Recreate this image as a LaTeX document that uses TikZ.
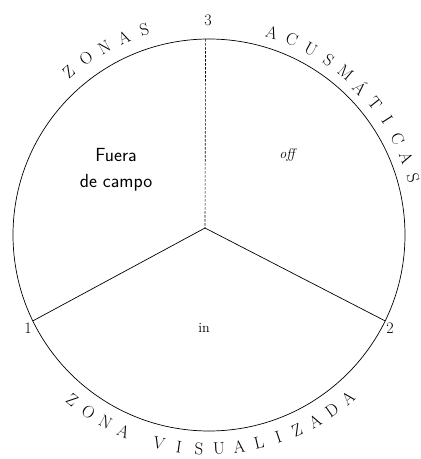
\documentclass[tikz,border=0pt]{standalone}
\usepackage{tikz}
\usetikzlibrary{positioning}
\tikzstyle{rim} = [line width=0.7pt]
\tikzstyle{spoke} = [line width=0.7pt]
\tikzstyle{hidden} = [line width=0.6pt, dash pattern=on 2.5pt off 1.5pt]
\tikzstyle{arcletter} = [inner sep=0pt, font=\fontsize{17}{17}\selectfont]
\tikzstyle{num} = [inner sep=0pt, font=\fontsize{16}{16}\selectfont]
\tikzstyle{field} = [align=center, inner sep=0pt, font=\sffamily\fontsize{19}{26}\selectfont]

\begin{document}
\begin{tikzpicture}[x=1pt,y=1pt]
\useasboundingbox (0,0) rectangle (421,459);

\coordinate (centre) at (209,224);
\coordinate (meet) at (205,231);
\path (centre) ++(206:196) coordinate (p1);
\path (centre) ++(-26:196) coordinate (p2);
\path (centre) ++(91:196) coordinate (p3);

\draw [rim] (centre) circle (196);
\draw [hidden] (p3) -- (meet);
\draw [spoke] (p1) -- (meet);
\draw [spoke] (p2) -- (meet);

% numbers at the three points
\node (num3) [num] at (208,439) {3};
\node (num1) [num] at (28,131) {1};
\node (num2) [num] at (390,131) {2};

% the three fields
\node (fuera) [field] at (116,289) {Fuera\\de campo};
\node (off) [font=\itshape\fontsize{14}{14}\selectfont] at (287,304) {off};
\node (in) [font=\fontsize{14}{14}\selectfont] at (204,131) {in};

% letters round the rim
\foreach \l [count=\i from 0] in {Z,O,N,A,S}
  \path (centre) ++({130.7-5.8*\i}:215)
    node (zonas-\i) [arcletter, rotate={40.7-5.8*\i}] {\l};
\foreach \l [count=\i from 0] in {A,C,U,S,M,Á,T,I,C,A,S}
  \path (centre) ++({72.7-5.7*\i}:212)
    node (acus-\i) [arcletter, rotate={-17.3-5.7*\i}] {\l};
\foreach \l [count=\i from 0] in {Z,O,N,A}
  \path (centre) ++({-129.7+5.4*\i}:214)
    node (zona-\i) [arcletter, rotate={-39.7+5.4*\i}] {\l};
\foreach \l [count=\i from 5] in {V,I,S,U,A,L,I,Z,A,D,A}
  \path (centre) ++({-130.5+5.4*\i}:214)
    node (visual-\i) [arcletter, rotate={-40.5+5.4*\i}] {\l};
\end{tikzpicture}
\end{document}
